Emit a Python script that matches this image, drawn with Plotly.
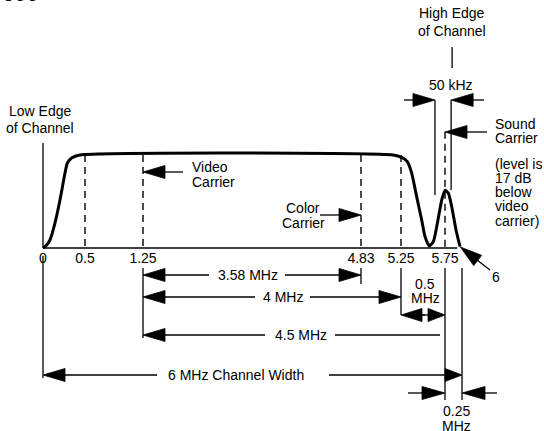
import numpy as np
import plotly.graph_objects as go

# ------------------------------------------------------------------ data
# frequency ticks on the baseline (MHz above the low edge of the channel)
TICK_FREQS = [0, 0.5, 1.25, 4.83, 5.25, 5.75]
TICK_LABELS = ["0", "0.5", "1.25", "4.83", "5.25", "5.75"]

# idealised response of the channel (relative level, video flat top = 1)
RESP_FREQ = [0.0, 0.032, 0.083, 0.143, 0.202, 0.262, 0.29, 0.34, 0.44,
             5.168, 5.258, 5.322, 5.372, 5.428, 5.485, 5.523, 5.572, 5.617,
             5.663, 5.713, 5.75, 5.799, 5.849, 5.912, 5.971]
RESP_LEVEL = [0.0, 0.02, 0.086, 0.27, 0.516, 0.806, 0.914, 0.968, 1.0,
              1.0, 0.975, 0.928, 0.803, 0.552, 0.301, 0.122, 0.022, 0.068,
              0.266, 0.516, 0.62, 0.59, 0.444, 0.194, 0.014]

# dashed marker lines (frequency, top level)
MARK_FREQS = [0.5, 1.25, 4.83, 5.25, 5.75]
MARK_TOPS = [1.0, 1.0, 1.0, 1.0, 1.25]

# dimension arrows (label, from MHz, to MHz)
DIM_LABELS = ["3.58 MHz", "4 MHz", "4.5 MHz", "6 MHz Channel Width", "0.5 MHz", "0.25 MHz"]
DIM_FROM = [1.25, 1.25, 1.25, 0.0, 5.25, 5.75]
DIM_TO = [4.83, 5.25, 5.75, 6.0, 5.75, 6.0]

# 50 kHz guard marks around the sound carrier / high edge
BAND_FREQS = [5.636, 5.84]

# ------------------------------------------------------------------ schematic scale
# the drawing is not to scale: piecewise mapping of MHz onto the drawing x axis
ANCHOR_FREQ = [0, 0.5, 1.25, 4.83, 5.25, 5.75, 6.0]
ANCHOR_POS = [43, 85, 143, 361, 401, 445, 462]
W, H = 544, 431
BASE_PX, UNIT_PX = 248.0, 93.0


def fx(f):
    return float(np.interp(f, ANCHOR_FREQ, ANCHOR_POS))


def ly(py):
    """layout row (pixels from top) -> level units of the y axis"""
    return (BASE_PX - py) / UNIT_PX


FONT = dict(family="Liberation Sans, Arial, Helvetica, sans-serif", size=14, color="black")

seg_x, seg_y = [], []
head_x, head_y = [], []


def seg(x0, py0, x1, py1):
    seg_x.extend([x0, x1, None])
    seg_y.extend([ly(py0), ly(py1), None])


def arrow(tx0, ty0, tx1, ty1, L=22.0, w=6.5, line=True):
    """line from tail (tx0,ty0) to tip (tx1,ty1) in layout px with filled head"""
    dx, dy = tx1 - tx0, ty1 - ty0
    n = np.hypot(dx, dy)
    ux, uy = dx / n, dy / n
    bx, by = tx1 - L * ux, ty1 - L * uy
    if line:
        seg(tx0, ty0, bx, by)
    px_, py_ = -uy, ux
    pts = [(tx1, ty1), (bx + w * px_, by + w * py_), (bx - w * px_, by - w * py_), (tx1, ty1)]
    for a, b in pts:
        head_x.append(a)
        head_y.append(ly(b))
    head_x.append(None)
    head_y.append(None)


annots = []


def txt(s, x, py, anchor="center", size=14, bold=False):
    f = dict(FONT)
    f["size"] = size
    if bold:
        f["weight"] = "bold"
    annots.append(dict(x=x, y=ly(py), xref="x", yref="y", text=s, showarrow=False,
                       xanchor=anchor, yanchor="middle", font=f))


# ------------------------------------------------------------------ geometry
x0 = fx(0)
# low edge line
seg(x0, 143, x0, 248)
seg(x0, 256, x0, 378)
# high edge tick
xb0, xb1 = fx(BAND_FREQS[0]), fx(BAND_FREQS[1])
seg(xb1 + 1, 47, xb1 + 1, 68)
seg(xb0, 100, xb0, 195)
seg(xb1, 100, xb1, 190)
arrow(404, 100, xb0, 100)
arrow(484, 100, xb1, 100)
# sound carrier pointer
arrow(487, 132, fx(5.75), 132)
# video carrier pointer
arrow(183, 172, fx(1.25), 172)
# color carrier pointer
arrow(320, 215, fx(4.83), 215)

# dimension rows
rows = [275, 297, 335, 375]
gaps = [(209, 285), (255, 310), (265, 335), (157, 329)]
centers = [248, 283, 301, 236]
for i in range(4):
    a, b = fx(DIM_FROM[i]), fx(DIM_TO[i])
    r = rows[i]
    arrow(gaps[i][0], r, a, r)
    if i == 2:
        seg(gaps[i][1], r, b - 5, r)
    elif i == 3:
        arrow(gaps[i][1], r, b, r, L=17)
    else:
        arrow(gaps[i][1], r, b, r)
    txt(DIM_LABELS[i], centers[i], r)
# vertical extension lines
seg(fx(4.83), 268, fx(4.83), 284)
seg(fx(5.25), 268, fx(5.25), 315)
seg(fx(1.25), 268, fx(1.25), 338)
seg(fx(5.75), 268, fx(5.75), 400)
seg(fx(6.0), 268, fx(6.0), 400)
# 0.5 MHz double arrow
a, b = fx(DIM_FROM[4]), fx(DIM_TO[4])
mid = (a + b) / 2
arrow(mid + 2, 315, a, 315, L=21)
arrow(mid - 2, 315, b, 315, L=17)
txt("0.5", mid + 2, 284)
txt("MHz", mid + 2, 298)
# 0.25 MHz outside arrows
a, b = fx(DIM_FROM[5]), fx(DIM_TO[5])
arrow(408, 393, a, 393, L=23)
arrow(497, 393, b, 393, L=23)
txt("0.25", (a + b) / 2 + 3, 411)
txt("MHz", (a + b) / 2 + 3, 426)
# "6" pointer
arrow(490, 270, fx(5.975), 247, L=22)
txt("6", 496, 277)

# texts
txt("Low Edge", 40, 110.5)
txt("of Channel", 40, 128)
txt("High Edge", 452, 13)
txt("of Channel", 452, 30.5)
txt("50 kHz", 451, 85)
txt("Sound", 493, 124, anchor="left")
txt("Carrier", 493, 138, anchor="left")
for s, r in zip(["(level is", "17 dB", "below", "video", "carrier)"], [164, 178, 192, 206, 221]):
    txt(s, 493, r, anchor="left")
txt("Video", 190, 167, anchor="left")
txt("Carrier", 190, 182, anchor="left")
txt("Color", 303, 208)
txt("Carrier", 303, 223)

# cut-off heading fragment at the top-left corner (lies above the plot area)
annots.append(dict(x=0, y=1 + 7.0 / H, xref="paper", yref="paper", text="600",
                   showarrow=False, xanchor="left", yanchor="middle",
                   font=dict(family=FONT["family"], size=22, color="black", weight="bold")))

# ------------------------------------------------------------------ figure
fig = go.Figure()
# baseline
fig.add_trace(go.Scatter(x=[fx(0), fx(5.93)], y=[0, 0], mode="lines",
                         line=dict(color="black", width=1.3), hoverinfo="skip"))
# dashed carrier marks
dx_, dy_ = [], []
for f, t in zip(MARK_FREQS, MARK_TOPS):
    dx_ += [fx(f), fx(f), None]
    dy_ += [t, 0, None]
fig.add_trace(go.Scatter(x=dx_, y=dy_, mode="lines",
                         line=dict(color="black", width=1.4, dash="7px,5px"), hoverinfo="skip"))
# thin solid lines
fig.add_trace(go.Scatter(x=seg_x, y=seg_y, mode="lines",
                         line=dict(color="black", width=1.3), hoverinfo="skip"))
# arrow heads
fig.add_trace(go.Scatter(x=head_x, y=head_y, mode="lines", fill="toself", fillcolor="black",
                         line=dict(color="black", width=0.8), hoverinfo="skip"))
# response curve
fig.add_trace(go.Scatter(x=[fx(f) for f in RESP_FREQ], y=RESP_LEVEL, mode="lines",
                         line=dict(color="black", width=3, shape="spline", smoothing=0.6),
                         hoverinfo="skip"))

fig.update_layout(
    width=W, height=H, margin=dict(l=0, r=0, t=0, b=0, pad=0),
    paper_bgcolor="white", plot_bgcolor="white", showlegend=False,
    annotations=annots, font=FONT,
    xaxis=dict(range=[0, W], showgrid=False, zeroline=False, showline=False,
               tickvals=[fx(f) for f in TICK_FREQS], ticktext=TICK_LABELS,
               ticks="", tickfont=FONT, anchor="free", position=(H - BASE_PX) / H,
               ticklabelstandoff=0),
    yaxis=dict(range=[ly(H), ly(0)], showgrid=False, zeroline=False, showline=False,
               showticklabels=False, ticks=""),
)
fig.write_html("out.html", config={"displayModeBar": False},
               post_script="document.body.style.margin='0px';document.body.style.overflow='hidden';")
